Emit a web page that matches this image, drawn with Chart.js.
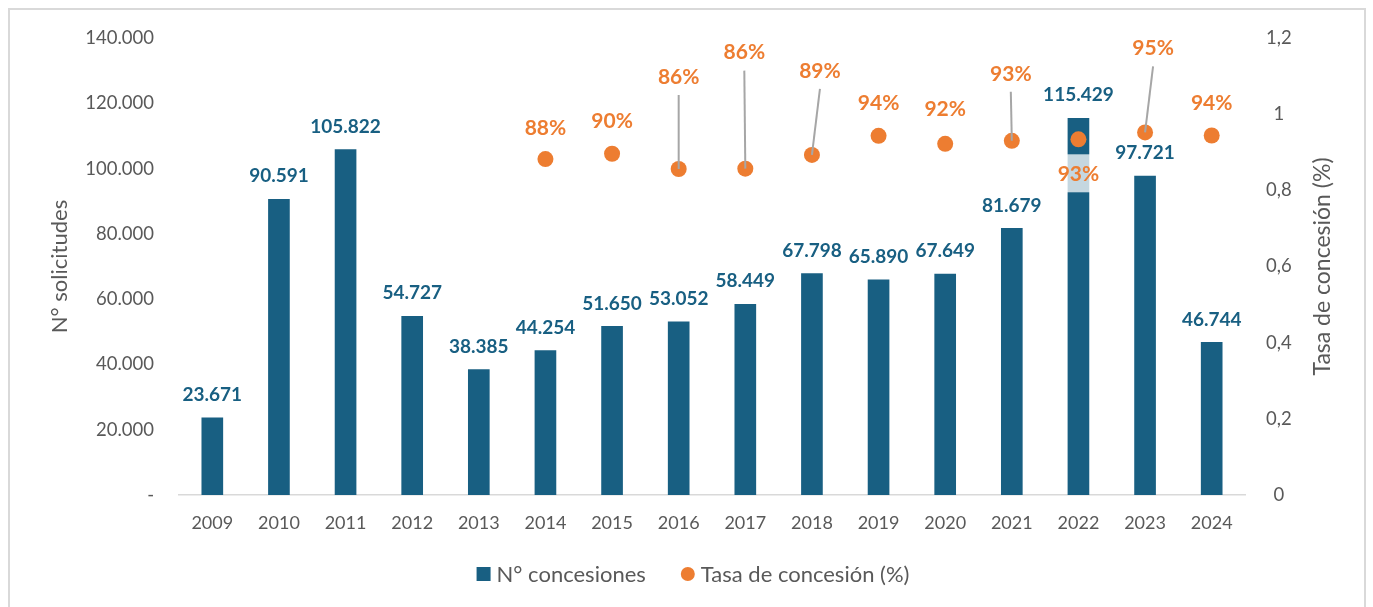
<!DOCTYPE html>
<html>
<head>
<meta charset="utf-8">
<script src="https://cdn.jsdelivr.net/npm/chart.js@4/dist/chart.umd.min.js"></script>
<style>
  html, body { margin: 0; padding: 0; background: #fff; overflow: hidden; }
</style>
</head>
<body>
<canvas id="myChart" width="1373" height="607"></canvas>
<script>
// Datos
const years = ['2009', '2010', '2011', '2012', '2013', '2014', '2015', '2016', '2017', '2018', '2019', '2020', '2021', '2022', '2023', '2024'];
const concesiones = [23671, 90591, 105822, 54727, 38385, 44254, 51650, 53052, 58449, 67798, 65890, 67649, 81679, 115429, 97721, 46744];
const tasa = [null, null, null, null, null, 0.882, 0.896, 0.856, 0.857, 0.893, 0.943, 0.922, 0.93, 0.934, 0.952, 0.944];

// Posición de las etiquetas de tasa respecto al punto: [dx, dy, línea guía, fondo]
const rateLabelOffsets = [
  null, null, null, null, null,
  [0, -31, false, false],
  [0, -33, false, false],
  [0, -92, true, false],
  [-1, -116, true, false],
  [8, -84, true, false],
  [0, -33, false, false],
  [0, -35, false, false],
  [-1, -67, true, false],
  [0, 35, false, true],
  [8, -84, true, false],
  [0, -32, false, false]
];

const blue = '#185f82';
const orange = '#ed7d31';
const gray = '#595959';
const fontFamily = 'Lato, "Open Sans", sans-serif';

const fmt = n => String(n).replace(/\B(?=(\d{3})+(?!\d))/g, '.');

const extras = {
  id: 'extras',
  beforeDraw(chart) {
    const c = chart.ctx;
    c.save();
    c.strokeStyle = '#d9d9d9';
    c.lineWidth = 2;
    c.strokeRect(9, 9, 1356, 602);
    c.restore();
  },
  afterDatasetsDraw(chart) {
    const c = chart.ctx;
    const bars = chart.getDatasetMeta(0).data;
    const dots = chart.getDatasetMeta(1).data;
    c.save();
    c.textAlign = 'center';
    c.textBaseline = 'middle';

    // etiquetas de barras
    c.fillStyle = blue;
    c.font = 'bold 19px ' + fontFamily;
    bars.forEach((b, i) => {
      c.fillText(fmt(concesiones[i]), b.x, b.y - 23);
    });

    // etiquetas de tasa
    c.font = 'bold 21px ' + fontFamily;
    dots.forEach((p, i) => {
      if (tasa[i] == null) return;
      const [dx, dy, leader, boxed] = rateLabelOffsets[i];
      const lx = p.x + dx, ly = p.y + dy;
      const txt = Math.round(tasa[i] * 100) + '%';
      if (leader) {
        c.strokeStyle = '#a6a6a6';
        c.lineWidth = 2;
        c.beginPath();
        c.moveTo(lx, ly + 18);
        c.lineTo(p.x, p.y);
        c.stroke();
      }
      if (boxed) {
        const w = c.measureText(txt).width + 8;
        c.fillStyle = 'rgba(255,255,255,0.75)';
        c.fillRect(lx - w / 2, ly - 20, w, 38);
      }
      c.fillStyle = orange;
      c.fillText(txt, lx, ly);
    });

    // título eje derecho
    const area = chart.chartArea;
    c.fillStyle = gray;
    c.font = '23px ' + fontFamily;
    c.translate(1323, (area.top + area.bottom) / 2);
    c.rotate(-Math.PI / 2);
    c.fillText('Tasa de concesión (%)', 0, 0);
    c.restore();

    // leyenda
    c.save();
    c.font = '22px ' + fontFamily;
    c.textBaseline = 'middle';
    c.textAlign = 'left';
    const items = [
      { text: chart.data.datasets[0].label, color: blue, shape: 'rect' },
      { text: chart.data.datasets[1].label, color: orange, shape: 'circle' }
    ];
    const gap = 6, between = 35, mk = 14;
    const widths = items.map(it => mk + gap + c.measureText(it.text).width);
    const total = widths[0] + between + widths[1];
    let x = 693 - total / 2;
    const y = 574;
    items.forEach((it, i) => {
      c.fillStyle = it.color;
      if (it.shape === 'rect') {
        c.fillRect(x, y - mk / 2, mk, mk);
      } else {
        c.beginPath();
        c.arc(x + mk / 2, y, mk / 2, 0, Math.PI * 2);
        c.fill();
      }
      c.fillStyle = gray;
      c.fillText(it.text, x + mk + gap, y + 1);
      x += widths[i] + between;
    });
    c.restore();
  }
};

const ctx = document.getElementById('myChart').getContext('2d');

new Chart(ctx, {
  type: 'bar',
  data: {
    labels: years,
    datasets: [
      {
        label: 'N° concesiones',
        data: concesiones,
        backgroundColor: blue,
        barThickness: 21,
        yAxisID: 'y',
        order: 2
      },
      {
        type: 'line',
        label: 'Tasa de concesión (%)',
        data: tasa,
        showLine: false,
        pointRadius: 8,
        pointHoverRadius: 8,
        pointBackgroundColor: orange,
        pointBorderWidth: 0,
        backgroundColor: orange,
        yAxisID: 'y1',
        order: 1
      }
    ]
  },
  options: {
    responsive: false,
    animation: false,
    layout: { padding: { top: 38, left: 0, right: 0, bottom: 0 } },
    plugins: {
      legend: { display: false },
      tooltip: { enabled: false }
    },
    scales: {
      x: {
        grid: { display: false },
        border: { display: true, color: '#d9d9d9', width: 1.5 },
        ticks: {
          color: gray,
          padding: 9,
          font: { family: fontFamily, size: 18 }
        },
        afterFit: s => { s.height = 112; }
      },
      y: {
        position: 'left',
        min: 0,
        max: 140000,
        grid: { display: false, drawTicks: false },
        border: { display: false },
        ticks: {
          stepSize: 20000,
          color: gray,
          padding: 25,
          font: { family: fontFamily, size: 18.5 },
          callback: v => v === 0 ? '-' : fmt(v)
        },
        title: {
          display: true,
          text: 'N° solicitudes',
          color: gray,
          padding: { top: 47 },
          font: { family: fontFamily, size: 22 }
        },
        afterFit: s => { s.width = 179; }
      },
      y1: {
        position: 'right',
        min: 0,
        max: 1.2,
        grid: { display: false, drawTicks: false },
        border: { display: false },
        ticks: {
          stepSize: 0.2,
          color: gray,
          padding: 21,
          crossAlign: 'center',
          font: { family: fontFamily, size: 18.5 },
          callback: v => String(Number(v.toFixed(1))).replace('.', ',')
        },
        afterFit: s => { s.width = 128; }
      }
    }
  },
  plugins: [extras]
});
</script>
</body>
</html>
